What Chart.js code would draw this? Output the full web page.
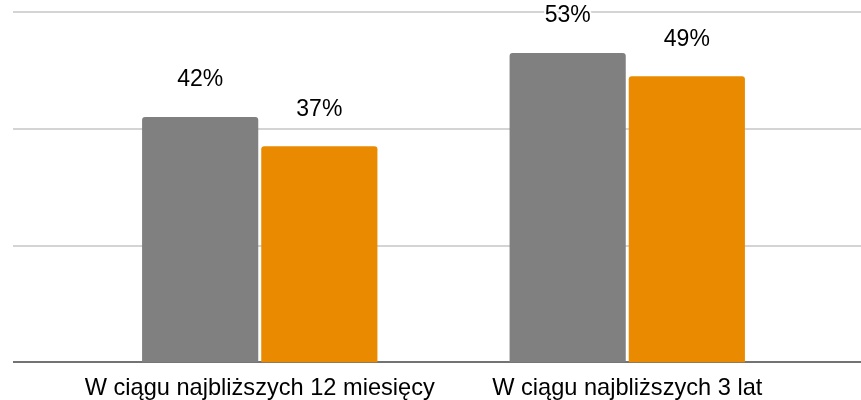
<!DOCTYPE html>
<html>
<head>
<meta charset="utf-8">
<script src="https://cdn.jsdelivr.net/npm/chart.js@4"></script>
<style>
  html, body { margin: 0; padding: 0; background: #fff; }
  #wrap { width: 861px; height: 400px; }
</style>
</head>
<body>
<div id="wrap"><canvas id="myChart"></canvas></div>
<script>
// chart data
const labels = ['W ciągu najbliższych 12 miesięcy', 'W ciągu najbliższych 3 lat'];
const seriesA = [42, 53];
const seriesB = [37, 49];
const gridValues = [0, 20, 40, 60];

// horizontal lines across the whole width
const gridLines = {
    id: 'gridLines',
    beforeDatasetsDraw(chart) {
        const ctx = chart.ctx;
        const y = chart.scales.y;
        ctx.save();
        gridValues.forEach(v => {
            const py = Math.round(y.getPixelForValue(v));
            ctx.beginPath();
            ctx.lineWidth = 1.5;
            ctx.strokeStyle = v === 0 ? '#444444' : '#c6c6c6';
            ctx.moveTo(13, py);
            ctx.lineTo(chart.width, py);
            ctx.stroke();
        });
        ctx.restore();
    }
};

// value labels above bars, with white halo
const valueLabels = {
    id: 'valueLabels',
    afterDatasetsDraw(chart) {
        const ctx = chart.ctx;
        ctx.save();
        ctx.font = '23px "Liberation Sans", Arial, sans-serif';
        ctx.textAlign = 'center';
        ctx.textBaseline = 'middle';
        ctx.lineJoin = 'round';
        chart.data.datasets.forEach((ds, i) => {
            const meta = chart.getDatasetMeta(i);
            meta.data.forEach((bar, j) => {
                const txt = ds.data[j] + '%';
                ctx.lineWidth = 4;
                ctx.strokeStyle = '#ffffff';
                ctx.strokeText(txt, bar.x, bar.y - 37);
                ctx.fillStyle = '#000000';
                ctx.fillText(txt, bar.x, bar.y - 37);
            });
        });
        ctx.restore();
    }
};

new Chart(document.getElementById('myChart'), {
    type: 'bar',
    data: {
        labels: labels,
        datasets: [{
            label: 'A',
            data: seriesA,
            backgroundColor: '#808080',
            borderRadius: { topLeft: 3, topRight: 3 },
            borderSkipped: 'bottom'
        }, {
            label: 'B',
            data: seriesB,
            backgroundColor: '#ea8a00',
            borderRadius: { topLeft: 3, topRight: 3 },
            borderSkipped: 'bottom'
        }]
    },
    options: {
        responsive: true,
        maintainAspectRatio: false,
        animation: false,
        categoryPercentage: 0.6485,
        barPercentage: 0.975,
        layout: {
            padding: { left: 76, right: 50, top: 12, bottom: -14 }
        },
        plugins: {
            legend: { display: false },
            tooltip: { enabled: false }
        },
        scales: {
            x: {
                grid: { display: false, drawTicks: false },
                border: { display: false },
                ticks: {
                    color: '#000000',
                    padding: 12,
                    maxRotation: 0,
                    font: { family: '"Liberation Sans", Arial, sans-serif', size: 23.6, lineHeight: 1.17 }
                }
            },
            y: {
                display: false,
                min: 0,
                max: 60,
                ticks: { stepSize: 20 }
            }
        }
    },
    plugins: [gridLines, valueLabels]
});
</script>
</body>
</html>
